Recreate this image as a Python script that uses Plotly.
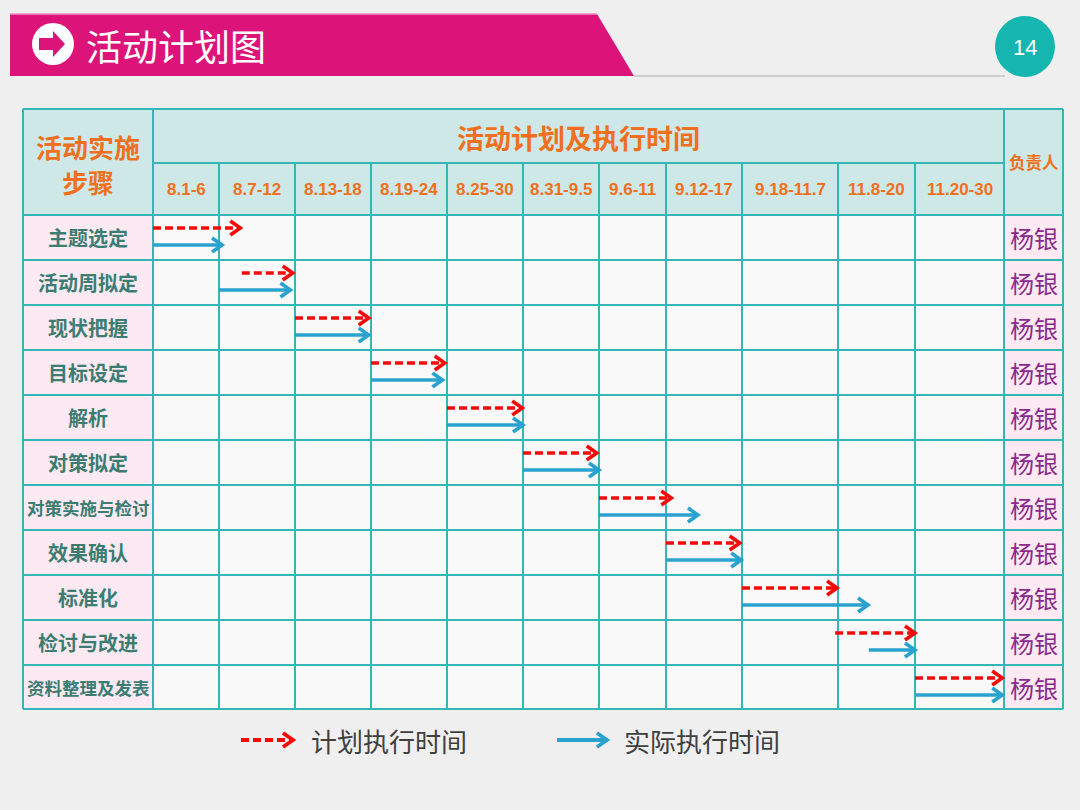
import plotly.graph_objects as go
import numpy as np

# ---------------- data ----------------
steps = ["主题选定", "活动周拟定", "现状把握", "目标设定", "解析", "对策拟定",
         "对策实施与检讨", "效果确认", "标准化", "检讨与改进", "资料整理及发表"]
periods = ["8.1-6", "8.7-12", "8.13-18", "8.19-24", "8.25-30", "8.31-9.5",
           "9.6-11", "9.12-17", "9.18-11.7", "11.8-20", "11.20-30"]
owners = ["杨银"] * 11
# arrow extents in column units (0 = start of first period column)
plan_start = [0.0, 1.30, 2.00, 3.00, 4.00, 5.00, 6.00, 7.00, 8.00, 8.97, 10.00]
plan_end = [1.28, 1.97, 2.97, 3.97, 4.99, 5.97, 7.07, 7.97, 8.99, 10.00, 10.98]
actual_start = [0.0, 1.00, 2.00, 3.00, 4.00, 5.00, 6.00, 7.00, 8.00, 9.40, 10.00]
actual_end = [1.04, 1.94, 2.97, 3.94, 5.00, 6.00, 7.42, 7.99, 9.39, 10.00, 10.98]

title_text = "活动计划图"
page_no = "14"
header_steps = ["活动实施", "步骤"]
header_time = "活动计划及执行时间"
header_owner = "负责人"
legend_plan = "计划执行时间"
legend_actual = "实际执行时间"

# ---------------- layout geometry ----------------
W, H = 1080, 810
col_edges = [153, 219, 295, 371, 447, 523, 599, 666, 742, 838, 915, 1004]
tbl_left, tbl_right = 23, 1063
tbl_top, hdr_mid, hdr_bot = 109, 163, 215
row_edges = [215, 260, 305, 350, 395, 440, 485, 530, 575, 620, 665, 709]

GRID = "#35b6b6"
HDR_FILL = "#cde8e7"
PINK = "#fce9f2"
CELL = "#f9f9f9"
ORANGE = "#f07020"
STEPC = "#3b7d73"
PURPLE = "#8b2a8c"
RED = "#f50a0a"
BLUE = "#2aa2cf"
MAGENTA = "#dc1479"
TEAL = "#15b5b0"
CJK = "Noto Sans CJK SC"
LAT = "Liberation Sans, Arial"


def cx(v):
    return float(np.interp(v, list(range(len(col_edges))), col_edges))


shapes = []


def rect(x0, y0, x1, y1, fill, line=None, lw=0):
    shapes.append(dict(type="rect", xref="x", yref="y", x0=x0, y0=y0, x1=x1, y1=y1,
                       fillcolor=fill, line=dict(width=lw, color=line or fill), layer="below"))


def hline(x0, x1, y, color=GRID, w=2):
    shapes.append(dict(type="line", xref="x", yref="y", x0=x0, x1=x1, y0=y, y1=y,
                       line=dict(color=color, width=w), layer="below"))


def vline(x, y0, y1, color=GRID, w=2):
    shapes.append(dict(type="line", xref="x", yref="y", x0=x, x1=x, y0=y0, y1=y1,
                       line=dict(color=color, width=w), layer="below"))


# title banner
shapes.append(dict(type="path", xref="x", yref="y",
                   path="M 10,14 L 597,14 L 634,76 L 10,76 Z",
                   fillcolor=MAGENTA, line=dict(width=0), layer="below"))
shapes.append(dict(type="line", xref="x", yref="y", x0=10, x1=597, y0=14, y1=14,
                   line=dict(color="#ee8fbf", width=1.5), layer="below"))
hline(634, 1005, 76, color="#c4c4c4", w=1.5)
shapes.append(dict(type="circle", xref="x", yref="y", x0=32, x1=74, y0=23, y1=65,
                   fillcolor="white", line=dict(width=0), layer="below"))
shapes.append(dict(type="path", xref="x", yref="y",
                   path="M 39,38 L 53,38 L 53,31 L 65,44 L 53,57 L 53,50 L 39,50 Z",
                   fillcolor=MAGENTA, line=dict(width=0), layer="below"))
shapes.append(dict(type="circle", xref="x", yref="y", x0=995, x1=1055, y0=16, y1=77,
                   fillcolor=TEAL, line=dict(width=0), layer="below"))

# table fills
rect(tbl_left, tbl_top, tbl_right, hdr_bot, HDR_FILL)
rect(tbl_left, hdr_bot, col_edges[0], row_edges[-1], PINK)
rect(col_edges[-1], hdr_bot, tbl_right, row_edges[-1], PINK)
rect(col_edges[0], hdr_bot, col_edges[-1], row_edges[-1], CELL)

# grid
hline(tbl_left, tbl_right, tbl_top)
hline(col_edges[0], col_edges[-1], hdr_mid)
for y in row_edges:
    hline(tbl_left, tbl_right, y)
for x in (tbl_left, col_edges[0], col_edges[-1], tbl_right):
    vline(x, tbl_top, row_edges[-1])
for x in col_edges[1:-1]:
    vline(x, hdr_mid, row_edges[-1])

annotations = []


def text(x, y, s, size, color, family=CJK, xanchor="center"):
    annotations.append(dict(x=x, y=y, xref="x", yref="y", text=s, showarrow=False,
                            xanchor=xanchor, yanchor="middle",
                            font=dict(size=size, color=color, family=family)))


text(84, 45, title_text, 36, "white", xanchor="left")
text(1025, 47, page_no, 22, "white", family=LAT)
text((tbl_left + col_edges[0]) / 2, 146, "<b>" + header_steps[0] + "</b>", 26, ORANGE)
text((tbl_left + col_edges[0]) / 2, 181, "<b>" + header_steps[1] + "</b>", 26, ORANGE)
text((col_edges[0] + col_edges[-1]) / 2, 137, "<b>" + header_time + "</b>", 27, ORANGE)
text((col_edges[-1] + tbl_right) / 2, 162, "<b>" + header_owner + "</b>", 16.5, ORANGE)
for i, p in enumerate(periods):
    text((col_edges[i] + col_edges[i + 1]) / 2, 189, "<b>" + p + "</b>", 17, ORANGE, family=LAT)
for i, s in enumerate(steps):
    yc = (row_edges[i] + row_edges[i + 1]) / 2
    size = 20 if len(s) <= 5 else 17.5
    text((tbl_left + col_edges[0]) / 2, yc, "<b>" + s + "</b>", size, STEPC)
    text((col_edges[-1] + tbl_right) / 2, yc, owners[i], 24, PURPLE)

# ---------------- arrows ----------------
AH_L, AH_H = 10, 7


def arrow_paths(starts, ends, off):
    lx, ly, hx, hy = [], [], [], []
    for i in range(len(starts)):
        y = row_edges[i] + off
        x0, x1 = cx(starts[i]), cx(ends[i])
        lx += [x0, x1 - 2, None]
        ly += [y, y, None]
        hx += [x1 - AH_L, x1, x1 - AH_L, None]
        hy += [y - AH_H, y, y + AH_H, None]
    return lx, ly, hx, hy


fig = go.Figure()
plx, ply, phx, phy = arrow_paths(plan_start, plan_end, 13)
alx, aly, ahx, ahy = arrow_paths(actual_start, actual_end, 30)
fig.add_trace(go.Scatter(x=plx, y=ply, mode="lines", name=legend_plan,
                         line=dict(color=RED, width=3.3, dash="8px,4px"), hoverinfo="skip"))
fig.add_trace(go.Scatter(x=phx, y=phy, mode="lines", showlegend=False,
                         line=dict(color=RED, width=3.6), hoverinfo="skip"))
fig.add_trace(go.Scatter(x=alx, y=aly, mode="lines", name=legend_actual,
                         line=dict(color=BLUE, width=3.3), hoverinfo="skip"))
fig.add_trace(go.Scatter(x=ahx, y=ahy, mode="lines", showlegend=False,
                         line=dict(color=BLUE, width=3.6), hoverinfo="skip"))

# legend (custom glyphs)
LY = 740
fig.add_trace(go.Scatter(x=[241, 291], y=[LY, LY], mode="lines", showlegend=False,
                         line=dict(color=RED, width=3.8, dash="8px,4px"), hoverinfo="skip"))
fig.add_trace(go.Scatter(x=[283, 293, 283], y=[LY - 7, LY, LY + 7], mode="lines", showlegend=False,
                         line=dict(color=RED, width=3.8), hoverinfo="skip"))
fig.add_trace(go.Scatter(x=[557, 605], y=[LY, LY], mode="lines", showlegend=False,
                         line=dict(color=BLUE, width=3.8), hoverinfo="skip"))
fig.add_trace(go.Scatter(x=[597, 607, 597], y=[LY - 7, LY, LY + 7], mode="lines", showlegend=False,
                         line=dict(color=BLUE, width=3.8), hoverinfo="skip"))
text(309, LY, legend_plan, 26, "#404040", xanchor="left")
text(622, LY, legend_actual, 26, "#404040", xanchor="left")

fig.update_layout(
    width=W, height=H, autosize=False,
    margin=dict(l=0, r=0, t=0, b=0),
    paper_bgcolor="#efefef", plot_bgcolor="rgba(0,0,0,0)",
    showlegend=False,
    xaxis=dict(range=[0, W], visible=False, fixedrange=True),
    yaxis=dict(range=[H, 0], visible=False, fixedrange=True),
    shapes=shapes, annotations=annotations,
)

fig.write_html("out.html", config={"displayModeBar": False},
               post_script="document.body.style.margin='0';")
